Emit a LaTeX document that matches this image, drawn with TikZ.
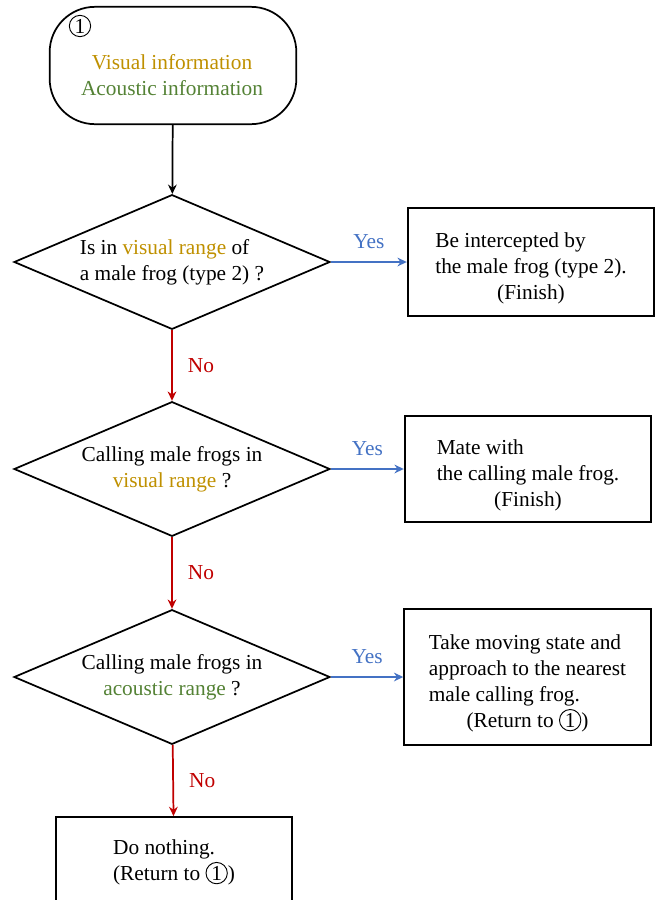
\documentclass[tikz,border=0pt]{standalone}
\usepackage{fontspec}
\setmainfont{Liberation Serif}
\usetikzlibrary{arrows.meta,positioning,shapes.geometric}
\definecolor{visual}{RGB}{191,144,0}
\definecolor{acoustic}{RGB}{84,130,53}
\definecolor{yesblue}{RGB}{68,114,196}
\definecolor{nored}{RGB}{192,0,0}
\tikzset{
  >={Stealth[length=7pt,width=6.5pt]},
  terminal/.style={draw,line width=1.3pt,rounded corners=34pt,
    minimum width=185pt,minimum height=88pt},
  decision/.style={diamond,aspect=2.36,draw,line width=1.3pt,inner sep=0pt,
    minimum width=237pt,minimum height=101pt},
  outcome/.style={draw,line width=1.3pt,inner sep=0pt,
    minimum width=185pt,minimum height=#1},
  outcome/.default=81pt,
  numring/.style={circle,draw,line width=0.7pt,inner sep=0pt,minimum size=16pt},
  flow/.style={->,line width=1.3pt,draw=#1},
  flow/.default=black,
  yes label/.style={above=6pt,text=yesblue},
  no label/.style={right=8pt,text=nored},
}
\newcommand{\circone}{\tikz[baseline=(c.base)]\node[numring] (c) {1};}
\newcommand{\resulttext}[2]{\raisebox{-4.5pt}[\height][\depth]{\begin{tabular}{@{}l@{}}#1\\\multicolumn{1}{@{}c@{}}{#2}\end{tabular}}}

\begin{document}
\begin{tikzpicture}[x=0.75pt,y=-0.75pt,font=\fontsize{16}{19.5}\selectfont]
  \useasboundingbox (0,0) rectangle (662,900);
  % start
  \node[terminal] (start) at (173,65.5) {};
  \node (startnum) at (80,26) {\circone};
  \node[align=center] (starttext) at (172,75)
    {\textcolor{visual}{Visual information}\\\textcolor{acoustic}{Acoustic information}};
  % questions
  \node[decision,align=left] (q1) at (172,262)
    {Is in \textcolor{visual}{visual range} of\\a male frog (type 2) ?};
  \node[decision,align=center] (q2) at (172,469)
    {Calling male frogs in\\\textcolor{visual}{visual range} ?};
  \node[decision,align=center] (q3) at (172,677)
    {Calling male frogs in\\\textcolor{acoustic}{acoustic range} ?};
  % results
  \node[outcome] (r1) at (531,262)
    {\resulttext{Be intercepted by\\the male frog (type 2).}{(Finish)}};
  \node[outcome=80pt] (r2) at (528,469)
    {\resulttext{Mate with\\the calling male frog.}{(Finish)}};
  \node[outcome=102pt] (r3) at (527.5,677)
    {\resulttext{Take moving state and\\approach to the nearest\\male calling frog.}{(Return to \circone)}};
  \node[outcome=67.5pt,minimum width=177pt,align=left] (r4) at (174,862)
    {Do nothing.\\(Return to \circone)};
  % arrows
  \draw[flow] (start) -- (q1);
  \draw[flow=yesblue] (q1) -- node[yes label] {Yes} (r1);
  \draw[flow=yesblue] (q2) -- node[yes label] {Yes} (r2);
  \draw[flow=yesblue] (q3) -- node[yes label] {Yes} (r3);
  \draw[flow=nored] (q1) -- node[no label] {No} (q2);
  \draw[flow=nored] (q2) -- node[no label] {No} (q3);
  \draw[flow=nored] (q3) -- node[no label] {No} (r4);
\end{tikzpicture}
\end{document}
